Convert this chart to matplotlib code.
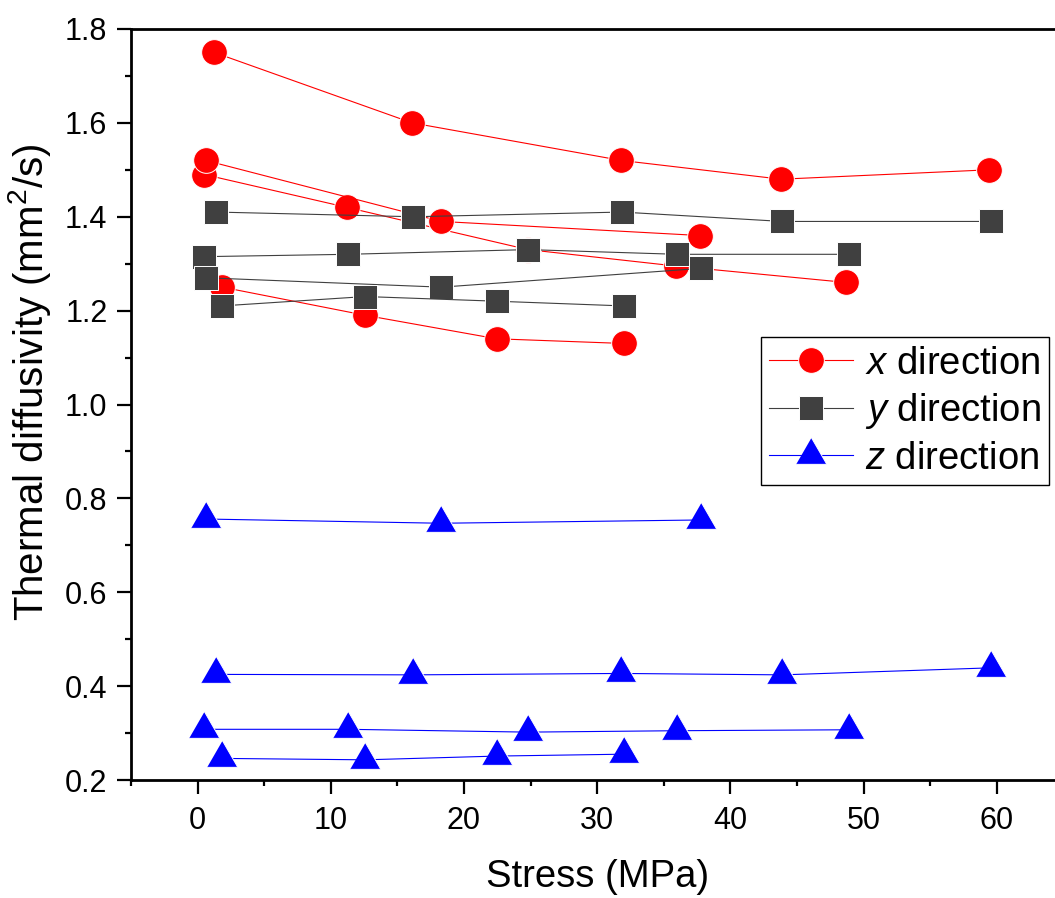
import matplotlib
matplotlib.use('Agg')
import matplotlib.pyplot as plt
from matplotlib import font_manager
from matplotlib.ticker import MultipleLocator, FormatStrFormatter

# x direction (red circles), four samples
xa_stress = [1.25, 16.1, 31.8, 43.8, 59.4]
xa_diff = [1.75, 1.60, 1.52, 1.48, 1.50]
xb_stress = [0.5, 11.2, 24.8, 35.9, 48.7]
xb_diff = [1.49, 1.42, 1.33, 1.295, 1.26]
xc_stress = [0.6, 18.3, 37.7]
xc_diff = [1.52, 1.39, 1.36]
xd_stress = [1.85, 12.6, 22.45, 32.0]
xd_diff = [1.25, 1.19, 1.14, 1.13]

# y direction (grey squares)
ya_stress = [1.4, 16.2, 31.85, 43.9, 59.55]
ya_diff = [1.41, 1.40, 1.41, 1.39, 1.39]
yb_stress = [0.5, 11.3, 24.8, 36.0, 48.9]
yb_diff = [1.315, 1.32, 1.33, 1.32, 1.32]
yc_stress = [0.6, 18.3, 37.8]
yc_diff = [1.27, 1.25, 1.29]
yd_stress = [1.8, 12.6, 22.5, 32.0]
yd_diff = [1.21, 1.23, 1.22, 1.21]

# z direction (blue triangles)
za_stress = [0.6, 18.3, 37.8]
za_diff = [0.756, 0.747, 0.754]
zb_stress = [1.4, 16.2, 31.8, 43.9, 59.6]
zb_diff = [0.425, 0.424, 0.427, 0.424, 0.439]
zc_stress = [0.5, 11.3, 24.8, 36.0, 48.9]
zc_diff = [0.308, 0.308, 0.302, 0.305, 0.307]
zd_stress = [1.8, 12.6, 22.5, 32.0]
zd_diff = [0.246, 0.243, 0.251, 0.255]

labels = ['$x$ direction', '$y$ direction', '$z$ direction']

installed = {f.name for f in font_manager.fontManager.ttflist}
narrow = 'Liberation Sans Narrow' if 'Liberation Sans Narrow' in installed else 'Liberation Sans'

plt.rcParams['font.family'] = ['Liberation Sans', 'DejaVu Sans']
plt.rcParams['mathtext.fontset'] = 'custom'
plt.rcParams['mathtext.rm'] = narrow
plt.rcParams['mathtext.it'] = 'Liberation Sans:italic'

# equilateral triangle centred on its centroid
tri = [(-1, -0.577), (1, -0.577), (0, 1.155)]

fig = plt.figure(figsize=(10.55, 8.98), dpi=100)
ax = fig.add_axes([131 / 1055, 118 / 898, 932.4 / 1055, 751 / 898])

groups = [
    ([(xa_stress, xa_diff), (xb_stress, xb_diff), (xc_stress, xc_diff), (xd_stress, xd_diff)],
     dict(color='#ff0000', marker='o', markersize=18.5, markerfacecolor='#ff0000')),
    ([(ya_stress, ya_diff), (yb_stress, yb_diff), (yc_stress, yc_diff), (yd_stress, yd_diff)],
     dict(color='#404040', marker='s', markersize=17, markerfacecolor='#404040')),
    ([(za_stress, za_diff), (zb_stress, zb_diff), (zc_stress, zc_diff), (zd_stress, zd_diff)],
     dict(color='#0000ff', marker=tri, markersize=25.5, markerfacecolor='#0000ff')),
]

handles = []
z = 2
for series, style in groups:
    for i, (s, d) in enumerate(series):
        h, = ax.plot(s, d, lw=0.8, markeredgecolor='white', markeredgewidth=0.7,
                     zorder=z, **style)
        if i == 0:
            handles.append(h)
    z += 1

ax.set_xlim(-5, 65)
ax.set_ylim(0.2, 1.8)
ax.xaxis.set_major_locator(MultipleLocator(10))
ax.xaxis.set_minor_locator(MultipleLocator(5))
ax.yaxis.set_major_locator(MultipleLocator(0.2))
ax.yaxis.set_minor_locator(MultipleLocator(0.1))
ax.yaxis.set_major_formatter(FormatStrFormatter('%.1f'))

for side in ['left', 'bottom', 'top', 'right']:
    ax.spines[side].set_linewidth(2.0)
ax.tick_params(which='major', direction='out', length=10, width=1.6, labelsize=22)
ax.tick_params(which='minor', direction='out', length=4.5, width=1.6)
ax.tick_params(axis='x', pad=9)
ax.tick_params(axis='y', pad=7)
for lab in ax.get_xticklabels():
    lab.set_family(narrow)

ax.set_xlabel('Stress (MPa)', family=narrow, fontsize=27.5, labelpad=16)
ax.set_ylabel('Thermal diffusivity (mm$^2$/s)', family=narrow, fontsize=29)
ax.yaxis.set_label_coords(-0.0837, 0.53)

leg = ax.legend(handles, labels, loc='upper left',
                bbox_to_anchor=(760.7 / 1055, 1 - 337.3 / 898),
                bbox_transform=fig.transFigure, borderaxespad=0,
                fontsize=27.5, numpoints=1, handlelength=2.2, handletextpad=0.3,
                labelspacing=0.25, borderpad=0.22, fancybox=False,
                edgecolor='black', framealpha=1)
leg.get_frame().set_linewidth(1.0)

fig.savefig('out.png', dpi=100)
